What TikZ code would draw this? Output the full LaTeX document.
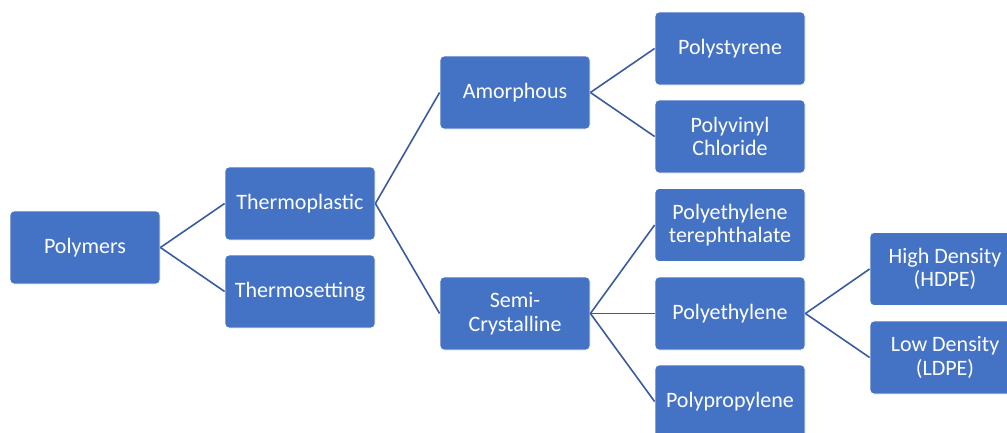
\documentclass[tikz,border=0pt]{standalone}
\usepackage{fontspec}
\setmainfont{Carlito}
\definecolor{boxblue}{HTML}{4472C4}
\definecolor{lineblue}{HTML}{3A5B9E}

\begin{document}
\begin{tikzpicture}[x=1pt, y=-1pt,
        box/.style={draw=white, line width=0.8pt, fill=boxblue, rounded corners=4pt,
            minimum width=150pt, minimum height=73pt, inner sep=0pt, align=center,
            text=white, font=\fontsize{22}{23.5}\selectfont},
        link/.style={draw=lineblue, line width=1.6pt}]
    \clip (0, 0) rectangle (1007, 432);

    % first level
    \node[box] (polymers) at (85, 247.5) {Polymers};

    \node[box] (thermoplastic) at (300, 203.5) {Thermoplastic};
    \node[box] (thermosetting) at (300, 291.5) {Thermosetting};

    % thermoplastic branch
    \node[box] (amorphous) at (515, 92.5) {Amorphous};
    \node[box] (semicryst) at (515, 313.5) {Semi-\\Crystalline};

    \node[box] (polystyrene) at (730, 48.5) {Polystyrene};
    \node[box] (pvc) at (730, 136.5) {Polyvinyl\\Chloride};
    \node[box] (pet) at (730, 225) {Polyethylene\\terephthalate};
    \node[box] (pe) at (730, 313.5) {Polyethylene};
    \node[box] (pp) at (730, 401.5) {Polypropylene};

    \node[box] (hdpe) at (945, 269) {High Density\\(HDPE)};
    \node[box] (ldpe) at (945, 357.5) {Low Density\\(LDPE)};

    % connectors
    \draw[link] (polymers.east) -- (thermoplastic.west);
    \draw[link] (polymers.east) -- (thermosetting.west);
    \draw[link] (thermoplastic.east) -- (amorphous.west);
    \draw[link] (thermoplastic.east) -- (semicryst.west);
    \draw[link] (amorphous.east) -- (polystyrene.west);
    \draw[link] (amorphous.east) -- (pvc.west);
    \draw[link] (semicryst.east) -- (pet.west);
    \draw[link] (semicryst.east) -- (pe.west);
    \draw[link] (semicryst.east) -- (pp.west);
    \draw[link] (pe.east) -- (hdpe.west);
    \draw[link] (pe.east) -- (ldpe.west);
\end{tikzpicture}
\end{document}
